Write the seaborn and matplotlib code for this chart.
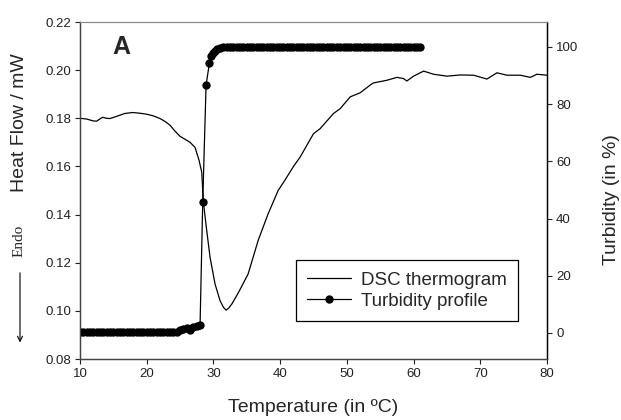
import matplotlib
matplotlib.use("Agg")
import matplotlib.pyplot as plt
from matplotlib.patches import FancyArrowPatch
import seaborn as sns

# DSC thermogram
dsc_temp = [10.0, 11.0, 12.0, 12.5, 13.0, 13.4, 14.0, 14.5, 15.5, 16.7, 17.9,
            19.0, 20.0, 21.0, 22.0, 22.8, 23.5, 24.2, 25.0, 25.8, 26.5, 27.25,
            27.85, 28.25, 28.5, 29.0, 29.5, 30.25, 31.0, 31.5, 31.9, 32.3, 32.75,
            33.75, 35.2, 36.7, 38.2, 39.7, 40.7, 42.0, 43.0, 45.0, 46.0, 48.0,
            49.0, 50.5, 52.0, 53.5, 54.0, 56.0, 57.5, 58.5, 59.0, 60.0, 61.5,
            63.0, 65.0, 67.0, 69.0, 71.0, 72.5, 74.0, 76.0, 77.5, 78.5, 80.0]
dsc_heat = [0.1800, 0.1797, 0.1789, 0.1788, 0.1798, 0.1804, 0.1800, 0.1799,
            0.1808, 0.1820, 0.1824, 0.1821, 0.1817, 0.1810, 0.1799, 0.1786,
            0.1771, 0.1748, 0.1725, 0.1712, 0.1700, 0.1679, 0.1625, 0.1576,
            0.1451, 0.1333, 0.1222, 0.1111, 0.1042, 0.1015, 0.1003, 0.1012,
            0.1028, 0.1076, 0.1153, 0.1292, 0.1403, 0.1500, 0.1542, 0.1600,
            0.1639, 0.1736, 0.1757, 0.1820, 0.1840, 0.1889, 0.1906, 0.1938,
            0.1947, 0.1958, 0.1970, 0.1965, 0.1955, 0.1975, 0.1996, 0.1983,
            0.1975, 0.1980, 0.1979, 0.1963, 0.1989, 0.1979, 0.1979, 0.1970,
            0.1983, 0.1979]

# turbidity profile
turb_temp = [10.0, 10.5, 11.0, 11.5, 12.0, 12.5, 13.0, 13.5, 14.0, 14.5,
             15.0, 15.5, 16.0, 16.5, 17.0, 17.5, 18.0, 18.5, 19.0, 19.5,
             20.0, 20.5, 21.0, 21.5, 22.0, 22.5, 23.0, 23.5, 24.0, 24.5,
             25.0, 25.5, 26.0, 26.5, 27.0, 27.5, 28.0, 28.4, 28.9, 29.4,
             29.7, 30.0, 30.3, 30.6, 31.0, 31.5, 32.0, 32.5, 33.0, 33.5,
             34.0, 34.5, 35.0, 35.5, 36.0, 36.5, 37.0, 37.5, 38.0, 38.5,
             39.0, 39.5, 40.0, 40.5, 41.0, 41.5, 42.0, 42.5, 43.0, 43.5,
             44.0, 44.5, 45.0, 45.5, 46.0, 46.5, 47.0, 47.5, 48.0, 48.5,
             49.0, 49.5, 50.0, 50.5, 51.0, 51.5, 52.0, 52.5, 53.0, 53.5,
             54.0, 54.5, 55.0, 55.5, 56.0, 56.5, 57.0, 57.5, 58.0, 58.5,
             59.0, 59.5, 60.0, 60.5, 61.0]
turbidity = [0.5, 0.5, 0.5, 0.5, 0.5, 0.5, 0.5, 0.5, 0.5, 0.5,
             0.5, 0.5, 0.5, 0.5, 0.5, 0.5, 0.5, 0.5, 0.5, 0.5,
             0.5, 0.5, 0.5, 0.5, 0.5, 0.5, 0.5, 0.5, 0.5, 0.5,
             1.0, 1.5, 1.8, 1.2, 2.0, 2.5, 2.8, 45.9, 86.7, 94.3,
             96.8, 97.8, 98.5, 99.1, 99.6, 100, 100, 100, 100, 100,
             100, 100, 100, 100, 100, 100, 100, 100, 100, 100,
             100, 100, 100, 100, 100, 100, 100, 100, 100, 100,
             100, 100, 100, 100, 100, 100, 100, 100, 100, 100,
             100, 100, 100, 100, 100, 100, 100, 100, 100, 100,
             100, 100, 100, 100, 100, 100, 100, 100, 100, 100,
             100, 100, 100, 100, 100]

sns.set_style("ticks")
plt.rcParams['font.family'] = ['Liberation Sans', 'DejaVu Sans']

fig = plt.figure(figsize=(6.21, 4.20), dpi=100)
ax = fig.add_axes([0.1288, 0.1452, 0.752, 0.8024])
ax2 = ax.twinx()

sns.lineplot(x=dsc_temp, y=dsc_heat, ax=ax, color='black', linewidth=0.9,
             legend=False)
sns.lineplot(x=turb_temp, y=turbidity, ax=ax2, color='black', linewidth=0.9,
             marker='o', markersize=6, markeredgewidth=0, legend=False)

ax.set_xlim(10, 80)
ax.set_ylim(0.08, 0.22)
ax.set_xticks(range(10, 81, 10))
ax.set_yticks([0.08, 0.10, 0.12, 0.14, 0.16, 0.18, 0.20, 0.22])
ax.set_yticklabels(["%.2f" % v for v in ax.get_yticks()])
ax2.set_ylim(-9.1, 108.7)
ax2.set_yticks([0, 20, 40, 60, 80, 100])

for a in (ax, ax2):
    a.tick_params(direction='out', length=3.5, width=0.8, labelsize=9.5,
                  colors='#222222', pad=3)
    a.spines['top'].set_color('#888888')
    a.spines['top'].set_linewidth(0.8)
    a.spines['left'].set_color('#444444')
    a.spines['bottom'].set_color('#444444')
    a.spines['right'].set_color('black')
    for s in ('left', 'bottom', 'right'):
        a.spines[s].set_linewidth(0.9)
    a.grid(False)

# axis titles placed like in the reference
fig.text(0.505, 0.029, "Temperature (in ºC)", fontsize=14,
         ha='center', va='center')
fig.text(0.0322, 0.707, "Heat Flow / mW", fontsize=14, rotation=90,
         ha='center', va='center')
fig.text(0.984, 0.526, "Turbidity (in %)", fontsize=14, rotation=90,
         ha='center', va='center')

ax.text(0.07, 0.926, "A", transform=ax.transAxes, fontsize=18,
        fontweight='bold', va='center', ha='left')

# Endo arrow on the left
fig.text(0.031, 0.426, "Endo", rotation=90, fontsize=11,
         family=['Liberation Serif', 'DejaVu Serif'], ha='center', va='center')
fig.add_artist(FancyArrowPatch(
    (0.0322, 0.357), (0.0322, 0.178), transform=fig.transFigure,
    arrowstyle='->', mutation_scale=9, color='black', linewidth=0.8))

leg = ax2.legend([ax.lines[0], ax2.lines[0]],
                 ["DSC thermogram", "Turbidity profile"],
                 loc='lower right', bbox_to_anchor=(0.938, 0.113),
                 borderaxespad=0, fontsize=13.5, frameon=True, fancybox=False,
                 framealpha=1, edgecolor='black', handlelength=2.3,
                 handletextpad=0.55, labelspacing=0.2, borderpad=0.6)
leg.get_frame().set_linewidth(0.9)

plt.savefig("out.png", dpi=100)
